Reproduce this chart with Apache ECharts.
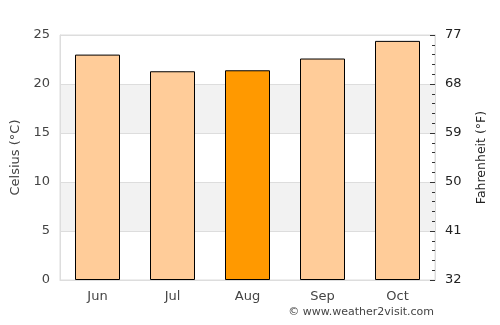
<!DOCTYPE html>
<html>
<head>
<meta charset="utf-8">
<title>Weather</title>
<script src="https://cdn.jsdelivr.net/npm/echarts@6/dist/echarts.min.js"></script>
<style>
  html, body { margin: 0; padding: 0; background: #fff; }
  #main { width: 500px; height: 325px; }
</style>
</head>
<body>
<div id="main"></div>
<script>
var months = ['Jun', 'Jul', 'Aug', 'Sep', 'Oct'];
var celsius = [23.0, 21.3, 21.4, 22.6, 24.4];
var highlight = 'Aug';
var fahrenheitTicks = [32, 41, 50, 59, 68, 77];

var chart = echarts.init(document.getElementById('main'));
var font = 'DejaVu Sans';

var barData = celsius.map(function (v, i) {
  return {
    value: v,
    itemStyle: { color: months[i] === highlight ? '#ff9900' : '#ffcc99' }
  };
});

var option = {
  animation: false,
  textStyle: { fontFamily: font },
  grid: { left: 60, right: 65, top: 35, bottom: 45, show: true, borderColor: '#dddddd', borderWidth: 1 },
  xAxis: {
    type: 'category',
    data: months,
    axisLine: { lineStyle: { color: '#dddddd' } },
    axisTick: { show: false },
    axisLabel: { color: '#444', fontSize: 13, margin: 10, fontFamily: font }
  },
  yAxis: [
    {
      type: 'value',
      min: 0, max: 25, interval: 5,
      name: 'Celsius (°C)',
      nameLocation: 'middle',
      nameGap: 34,
      nameTextStyle: { color: '#444', fontSize: 13, fontFamily: font },
      axisLine: { show: true, lineStyle: { color: '#dddddd' } },
      axisTick: { show: false },
      axisLabel: { color: '#444', fontSize: 13, margin: 10, fontFamily: font },
      splitLine: { lineStyle: { color: '#dddddd' } },
      splitArea: { show: true, areaStyle: { color: ['rgba(0,0,0,0)', '#f2f2f2'] } }
    },
    {
      type: 'value',
      position: 'right',
      min: fahrenheitTicks[0], max: fahrenheitTicks[fahrenheitTicks.length - 1], interval: 9,
      name: 'Fahrenheit (°F)',
      nameLocation: 'middle',
      nameGap: 40,
      nameRotate: 90,
      nameTextStyle: { color: '#222', fontSize: 12.5, fontFamily: font },
      axisLine: { show: true, lineStyle: { color: '#dddddd' } },
      axisTick: { show: true, inside: true, length: 5, lineStyle: { color: '#333' } },
      minorTick: { show: true, splitNumber: 5, length: 3, lineStyle: { color: '#333' } },
      axisLabel: { color: '#222', fontSize: 13, margin: 10, fontFamily: font },
      splitLine: { show: false }
    }
  ],
  series: [{
    type: 'bar',
    data: barData,
    barWidth: '60%',
    itemStyle: { borderColor: '#000', borderWidth: 1 }
  }],
  graphic: [{
    type: 'text',
    right: 66,
    top: 307,
    style: { text: '© www.weather2visit.com', fill: '#444', font: '11px DejaVu Sans' }
  }]
};

chart.setOption(option);
</script>
</body>
</html>
